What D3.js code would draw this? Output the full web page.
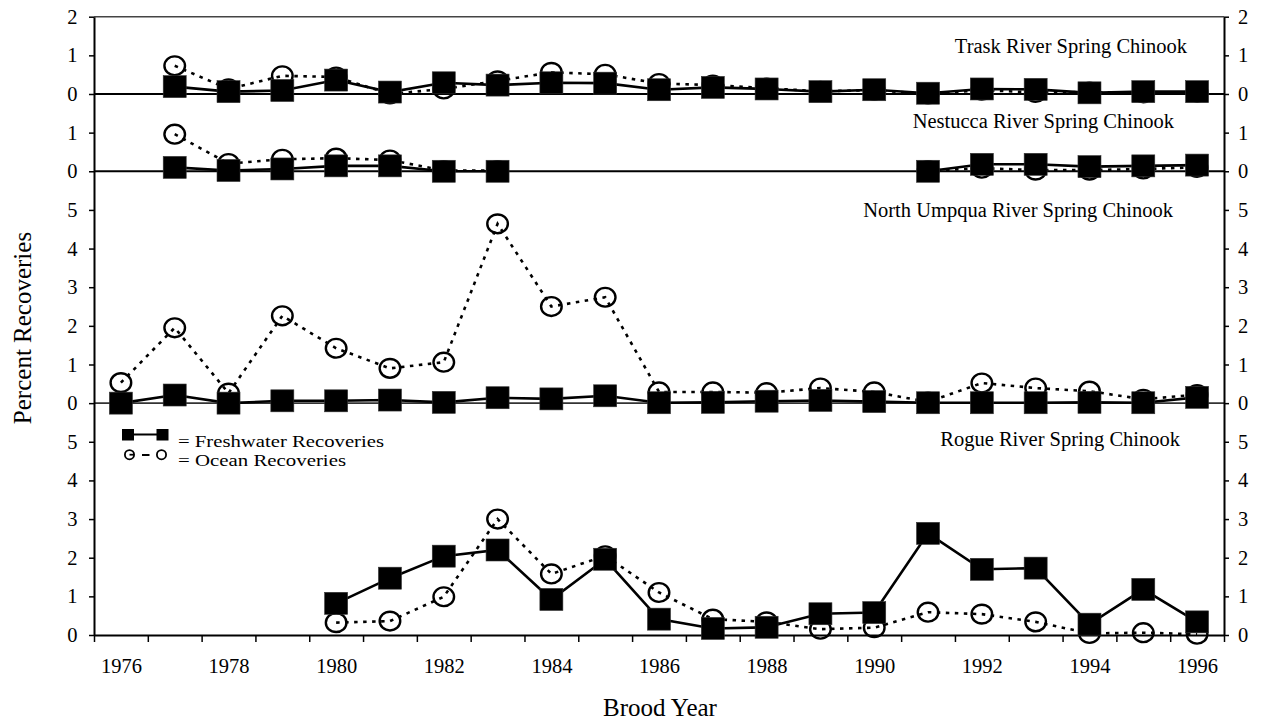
<!DOCTYPE html>
<html>
<head>
<meta charset="utf-8">
<script src="https://cdn.jsdelivr.net/npm/d3@7"></script>
<style>
  html, body { margin: 0; padding: 0; background: #fff; }
  svg { display: block; font-family: "Liberation Serif", "Times New Roman", serif; }
  svg text { font-family: "Liberation Serif", "Times New Roman", serif; }
</style>
</head>
<body>
<svg id="chart" width="1264" height="723" font-family="Liberation Serif, Times New Roman, serif"></svg>
<script>
// ---------------- DATA ----------------
const years = [1976, 1977, 1978, 1979, 1980, 1981, 1982, 1983, 1984, 1985, 1986,
               1987, 1988, 1989, 1990, 1991, 1992, 1993, 1994, 1995, 1996];

const panelNames = ["Trask River Spring Chinook", "Nestucca River Spring Chinook",
                    "North Umpqua River Spring Chinook", "Rogue River Spring Chinook"];

// Percent recoveries per brood year (null = no data)
const traskFreshwater = [null, 0.19, 0.06, 0.09, 0.36, 0.05, 0.29, 0.23, 0.29, 0.28, 0.11,
                         0.17, 0.13, 0.06, 0.11, 0.02, 0.13, 0.12, 0.03, 0.06, 0.06];
const traskOcean      = [null, 0.73, 0.13, 0.47, 0.44, 0.00, 0.13, 0.34, 0.56, 0.51, 0.27,
                         0.23, 0.15, 0.07, 0.10, 0.00, 0.10, 0.04, 0.05, 0.03, 0.05];

const nestuccaFreshwater = [null, 0.10, 0.02, 0.06, 0.14, 0.14, 0.00, 0.00, null, null, null,
                            null, null, null, null, 0.00, 0.18, 0.18, 0.12, 0.14, 0.16];
const nestuccaOcean      = [null, 0.96, 0.20, 0.31, 0.34, 0.29, 0.02, 0.02, null, null, null,
                            null, null, null, null, 0.02, 0.08, 0.03, 0.03, 0.06, 0.10];

const umpquaFreshwater = [0.00, 0.21, 0.00, 0.06, 0.06, 0.08, 0.02, 0.14, 0.11, 0.19, 0.01,
                          0.02, 0.05, 0.07, 0.04, 0.01, 0.01, 0.01, 0.02, 0.01, 0.15];
const umpquaOcean      = [0.53, 1.95, 0.26, 2.26, 1.42, 0.90, 1.06, 4.64, 2.50, 2.74, 0.29,
                          0.29, 0.27, 0.39, 0.29, 0.03, 0.52, 0.39, 0.31, 0.10, 0.22];

const rogueFreshwater = [null, null, null, null, 0.82, 1.47, 2.04, 2.20, 0.92, 1.96, 0.41,
                         0.17, 0.20, 0.55, 0.58, 2.63, 1.70, 1.73, 0.28, 1.18, 0.34];
const rogueOcean      = [null, null, null, null, 0.32, 0.36, 0.99, 3.00, 1.58, 2.05, 1.10,
                         0.41, 0.34, 0.15, 0.19, 0.59, 0.54, 0.34, 0.04, 0.06, 0.02];

const xTickLabels = [1976, 1978, 1980, 1982, 1984, 1986, 1988, 1990, 1992, 1994, 1996];
const yTickLabels = ["0", "1", "2", "3", "4", "5", "0", "1", "2", "3", "4", "5", "0", "1", "0", "1", "2"];

const legendLabels = ["= Freshwater Recoveries", "= Ocean Recoveries"];
const xTitle = "Brood Year";
const yTitle = "Percent Recoveries";

// ---------------- LAYOUT ----------------
const freshSeries = [traskFreshwater, nestuccaFreshwater, umpquaFreshwater, rogueFreshwater];
const oceanSeries = [traskOcean, nestuccaOcean, umpquaOcean, rogueOcean];
const panelOffsets = [14, 12, 6, 0];          // stacked baseline of each panel (y units)
const titlePos = [[1187, 53], [1174, 128], [1173, 216.5], [1180, 446]];

const svg = d3.select("#chart");
const L = 94, R = 1224, T = 16.7, B = 635;
const FONT = 20.5;
const SERIF = "Liberation Serif, Times New Roman, serif";

const x = d3.scaleLinear().domain([1975.5, 1996.5]).range([L, R]);
const y = d3.scaleLinear().domain([0, 16]).range([B, T]);

const yTickValues = d3.range(0, 17);
const halfYears = d3.range(1975.5, 1997, 1);

// top border
svg.append("line").attr("x1", L).attr("x2", R).attr("y1", y(16)).attr("y2", y(16))
  .attr("stroke", "#444").attr("stroke-width", 1.5);

// panel zero lines
[14, 12, 6].forEach((o, i) => {
  svg.append("line").attr("x1", L).attr("x2", R).attr("y1", y(o)).attr("y2", y(o))
    .attr("stroke", i === 2 ? "#333" : "#000").attr("stroke-width", i === 2 ? 1.6 : 2);
});

// left axis
const gl = svg.append("g").attr("transform", `translate(${L},0)`)
  .call(d3.axisLeft(y).tickValues(yTickValues).tickFormat((d, i) => yTickLabels[i])
    .tickSize(5).tickPadding(11.5).tickSizeOuter(0));
// right axis
const gr = svg.append("g").attr("transform", `translate(${R},0)`)
  .call(d3.axisRight(y).tickValues(yTickValues).tickFormat((d, i) => yTickLabels[i])
    .tickSize(5).tickPadding(9).tickSizeOuter(0));
// bottom axis: ticks between years
const gb = svg.append("g").attr("transform", `translate(0,${B})`)
  .call(d3.axisBottom(x).tickValues(halfYears).tickFormat("").tickSize(7).tickSizeOuter(0));
// bottom labels
const gbl = svg.append("g").attr("transform", `translate(0,${B})`)
  .call(d3.axisBottom(x).tickValues(xTickLabels).tickFormat(d3.format("d"))
    .tickSize(0).tickPadding(23.7).tickSizeOuter(0));
gbl.select(".domain").remove();

[gl, gr, gb, gbl].forEach(g => g.attr("font-family", SERIF));
[gl, gr, gb].forEach(g => {
  g.select(".domain").attr("stroke", "#000").attr("stroke-width", 2);
  g.selectAll(".tick line").attr("stroke", "#000").attr("stroke-width", 1.5);
});
[gl, gr, gbl].forEach(g => {
  g.selectAll("text").attr("font-size", FONT).attr("fill", "#000").attr("font-family", SERIF);
});

// data
const line = (off) => d3.line()
  .defined(d => d.v !== null)
  .x(d => x(d.year))
  .y(d => y(off + d.v));

freshSeries.forEach((fs, p) => {
  const off = panelOffsets[p];
  const fd = years.map((yr, i) => ({ year: yr, v: fs[i] }));
  const od = years.map((yr, i) => ({ year: yr, v: oceanSeries[p][i] }));
  const g = svg.append("g");

  g.append("path").datum(od).attr("d", line(off))
    .attr("fill", "none").attr("stroke", "#000").attr("stroke-width", 2.6)
    .attr("stroke-dasharray", "3.5,5.5");
  g.selectAll("ellipse.oc").data(od.filter(d => d.v !== null)).enter().append("ellipse")
    .attr("class", "oc")
    .attr("cx", d => x(d.year)).attr("cy", d => y(off + d.v))
    .attr("rx", 10.3).attr("ry", 9.4)
    .attr("fill", "none").attr("stroke", "#000").attr("stroke-width", 2.4);

  g.append("path").datum(fd).attr("d", line(off))
    .attr("fill", "none").attr("stroke", "#000").attr("stroke-width", 2.6);
  g.selectAll("rect.fw").data(fd.filter(d => d.v !== null)).enter().append("rect")
    .attr("class", "fw")
    .attr("x", d => x(d.year) - 11.5).attr("y", d => y(off + d.v) - 11)
    .attr("width", 23).attr("height", 22)
    .attr("fill", "#000").attr("stroke", "#333").attr("stroke-width", 0.6);
});

// panel titles
panelNames.forEach((name, i) => {
  svg.append("text").attr("x", titlePos[i][0]).attr("y", titlePos[i][1])
    .attr("text-anchor", "end").attr("font-size", FONT).attr("font-family", SERIF)
    .attr("fill", "#000").text(name);
});

// legend
const lg = svg.append("g");
lg.append("line").attr("x1", 128).attr("x2", 162).attr("y1", 434.5).attr("y2", 434.5)
  .attr("stroke", "#000").attr("stroke-width", 2);
lg.append("rect").attr("x", 122).attr("y", 429).attr("width", 12).attr("height", 11.5).attr("fill", "#000");
lg.append("rect").attr("x", 156.5).attr("y", 429).attr("width", 12).attr("height", 11.5).attr("fill", "#000");
lg.append("line").attr("x1", 142).attr("x2", 149.5).attr("y1", 455).attr("y2", 455)
  .attr("stroke", "#000").attr("stroke-width", 2);
lg.append("circle").attr("cx", 129.5).attr("cy", 454.7).attr("r", 4.6)
  .attr("fill", "none").attr("stroke", "#000").attr("stroke-width", 1.8);
lg.append("circle").attr("cx", 161.5).attr("cy", 454.7).attr("r", 4.6)
  .attr("fill", "none").attr("stroke", "#000").attr("stroke-width", 1.8);
lg.append("line").attr("x1", 129.5).attr("x2", 134).attr("y1", 454.7).attr("y2", 454.7)
  .attr("stroke", "#000").attr("stroke-width", 1.8);
lg.append("text").attr("x", 178).attr("y", 446.5).attr("font-size", 17).attr("font-family", SERIF)
  .attr("textLength", 206).attr("lengthAdjust", "spacingAndGlyphs").text(legendLabels[0]);
lg.append("text").attr("x", 178).attr("y", 466).attr("font-size", 17).attr("font-family", SERIF)
  .attr("textLength", 168).attr("lengthAdjust", "spacingAndGlyphs").text(legendLabels[1]);

// axis titles
svg.append("text").attr("x", 660).attr("y", 716).attr("text-anchor", "middle")
  .attr("font-size", 25).attr("font-family", SERIF).text(xTitle);
svg.append("text").attr("transform", "translate(31,328) rotate(-90)")
  .attr("text-anchor", "middle").attr("font-size", 25).attr("font-family", SERIF).text(yTitle);
</script>
</body>
</html>
